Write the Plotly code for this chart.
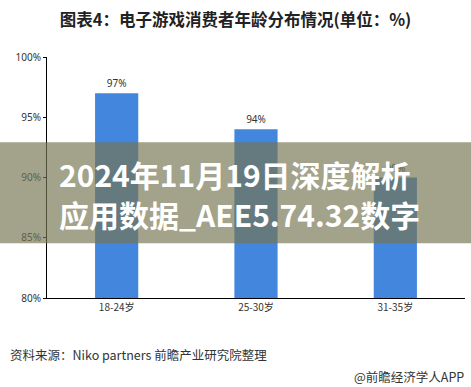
import plotly.graph_objects as go

categories = ["18-24岁", "25-30岁", "31-35岁"]
values = [97, 94, 90]
y_ticks = [80, 85, 90, 95, 100]

W, H = 471, 387
L, R, T, B = 47, 465, 56.7, 297.7
pw, ph = R - L, B - T

def px(x):
    return (x - L) / pw

def py(y):
    return (B - y) / ph

fig = go.Figure()
fig.add_trace(go.Bar(
    x=categories, y=values, width=0.31,
    marker=dict(color="#4286de", line=dict(width=0)),
    text=[f"{v}%" for v in values], textposition="outside",
    textfont=dict(size=10, color="#333333", family="Noto Sans"),
    cliponaxis=False,
))

cjk = "Noto Sans CJK SC"
fig.update_layout(
    width=W, height=H,
    margin=dict(l=L, r=W - R, t=T, b=H - B, pad=0),
    plot_bgcolor="white", paper_bgcolor="white",
    showlegend=False,
    bargap=0.69,
    title=dict(text="<b>图表4：电子游戏消费者年龄分布情况(单位：%)</b>",
               x=0.5, xanchor="center", y=1 - 20 / H, yanchor="middle",
               font=dict(size=16.5, color="#222222", family=cjk)),
    xaxis=dict(showline=True, linecolor="#000000", linewidth=1, ticks="",
               tickfont=dict(size=10, color="#333333", family=cjk),
               showgrid=False, fixedrange=True),
    yaxis=dict(range=[80, 100], tickvals=y_ticks,
               ticktext=[f"{t}%" for t in y_ticks],
               showline=True, linecolor="#000000", linewidth=1,
               ticks="outside", ticklen=3, tickcolor="#000000",
               tickfont=dict(size=10, color="#333333", family="Noto Sans"),
               showgrid=False, zeroline=False, fixedrange=True),
)

fig.add_shape(type="rect", xref="paper", yref="paper",
              x0=px(0), x1=px(W), y0=py(243), y1=py(142),
              fillcolor="rgba(118,116,81,0.67)", line=dict(width=0),
              layer="above")

for txt, yc in [("2024年11月19日深度解析", 174), ("应用数据_AEE5.74.32数字", 214)]:
    fig.add_annotation(text=f"<b>{txt}</b>", xref="paper", yref="paper",
                       x=px(57), y=py(yc), xanchor="left", yanchor="middle",
                       showarrow=False,
                       font=dict(size=30, color="white", family=cjk))

fig.add_annotation(text="资料来源：Niko partners 前瞻产业研究院整理",
                   xref="paper", yref="paper", x=px(8), y=py(354),
                   xanchor="left", yanchor="middle", showarrow=False,
                   font=dict(size=12.5, color="#333333", family=cjk))
fig.add_annotation(text="@前瞻经济学人APP",
                   xref="paper", yref="paper", x=px(466), y=py(376),
                   xanchor="right", yanchor="middle", showarrow=False,
                   font=dict(size=12.5, color="#333333", family=cjk))

fig.write_html("out.html", config={"displayModeBar": False},
               post_script="document.body.style.margin='0';document.body.style.padding='0';document.body.style.overflow='hidden';")
